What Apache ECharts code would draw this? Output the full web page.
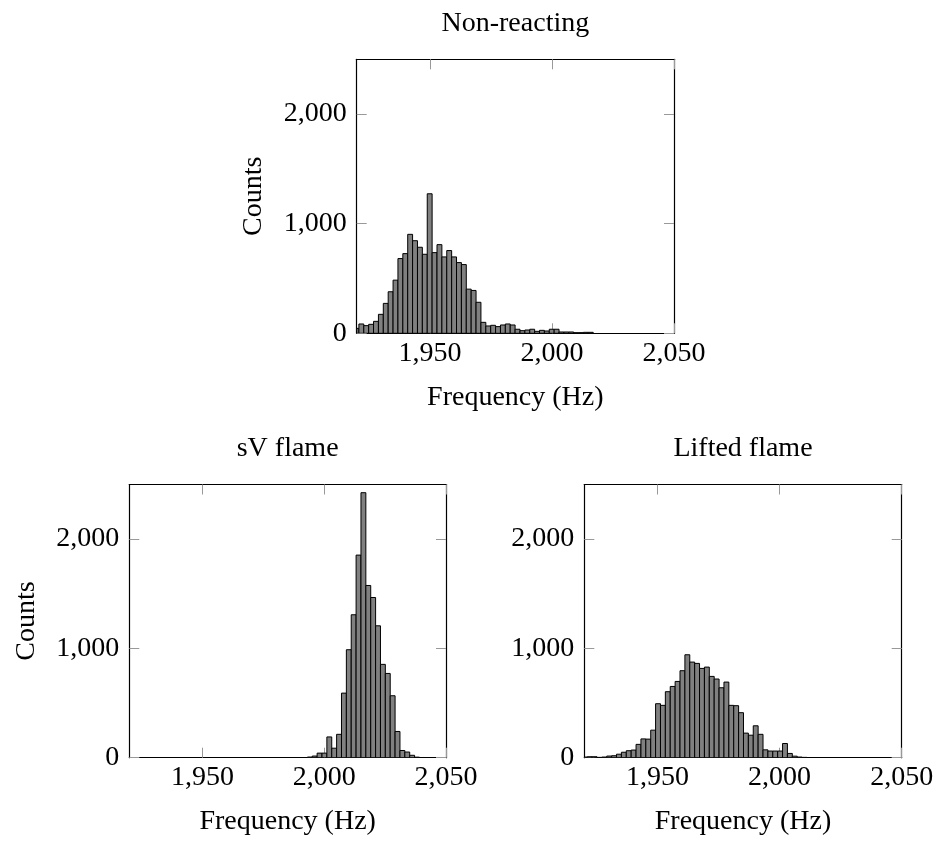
<!DOCTYPE html>
<html>
<head>
<meta charset="utf-8">
<script src="https://cdn.jsdelivr.net/npm/echarts@6/dist/echarts.min.js"></script>
<style>
html,body{margin:0;padding:0;background:#fff;}
#chart{width:936px;height:844px;}
</style>
</head>
<body>
<div id="chart"></div>
<script>
// ---- Data (bin centres in Hz, counts) ----
const binWidth = 2.0;
const xTicks = [1950, 2000, 2050];
const yTicks = [0, 1000, 2000];
const titles = ['Non-reacting', 'sV flame', 'Lifted flame'];

const topCenters = [1919.9,1921.9,1923.9,1925.9,1927.9,1929.9,1931.9,1933.9,1935.9,1937.9,1939.9,1941.9,1943.9,1945.9,1947.9,1949.9,1951.9,1953.9,1955.9,1957.9,1959.9,1961.9,1963.9,1965.9,1967.9,1969.9,1971.9,1973.9,1975.9,1977.9,1979.9,1981.9,1983.9,1985.9,1987.9,1989.9,1991.9,1993.9,1995.9,1997.9,1999.9,2001.9,2003.9,2005.9,2007.9,2009.9,2011.9,2013.9,2015.9];
const topCounts = [45,85,70,82,109,173,273,379,485,682,727,903,845,785,721,1273,736,809,697,755,697,645,627,403,391,283,100,67,73,61,76,85,76,37,24,30,37,18,27,21,37,37,12,12,12,6,6,9,9];

const svCenters = [1994.1,1996.1,1998.1,2000.1,2002.1,2004.1,2006.1,2008.1,2010.1,2012.1,2014.1,2016.1,2018.1,2020.1,2022.1,2024.1,2026.1,2028.1,2030.1,2032.1,2034.1,2036.1,2038.1];
const svCounts = [6,15,42,42,190,87,214,591,988,1308,1854,2425,1576,1466,1207,854,771,567,240,66,52,22,5];

const liftedCenters = [1920.2,1922.2,1924.2,1926.2,1928.2,1930.2,1932.2,1934.2,1936.2,1938.2,1940.2,1942.2,1944.2,1946.2,1948.2,1950.2,1952.2,1954.2,1956.2,1958.2,1960.2,1962.2,1964.2,1966.2,1968.2,1970.2,1972.2,1974.2,1976.2,1978.2,1980.2,1982.2,1984.2,1986.2,1988.2,1990.2,1992.2,1994.2,1996.2,1998.2,2000.2,2002.2,2004.2,2006.2,2008.2,2010.2];
const liftedCounts = [6,9,9,3,6,15,18,32,50,64,70,122,172,170,252,494,479,604,652,698,796,942,875,863,817,829,744,720,640,692,479,476,412,225,206,292,214,72,61,61,61,130,39,14,6,3];

// ---- Styling / layout ----
const FONT = "'Liberation Serif', 'DejaVu Serif', serif";
const FS = 28;
const grids = [
  {left: 356.7, top: 59.3, width: 317.3, height: 274},
  {left: 129.3, top: 484.5, width: 316.7, height: 273.2},
  {left: 584.3, top: 484.5, width: 317.4, height: 273.2}
];
const fmt = v => Math.round(v).toLocaleString('en-US');

const xAxes = [], yAxes = [], series = [];
const datasets = [[topCenters, topCounts], [svCenters, svCounts], [liftedCenters, liftedCounts]];

grids.forEach((g, i) => {
  const common = {
    gridIndex: i, type: 'value', splitLine: {show: false},
    axisLine: {show: true, onZero: false, lineStyle: {color: '#000', width: 1.2}},
    axisTick: {show: true, inside: true, length: 10, lineStyle: {color: '#999', width: 1}}
  };
  xAxes.push(Object.assign({}, common, {
    position: 'bottom', min: 1920, max: 2050,
    axisTick: Object.assign({}, common.axisTick, {customValues: xTicks}),
    axisLabel: {customValues: xTicks, formatter: fmt, fontFamily: FONT, fontSize: FS, color: '#000', margin: 6},
    name: 'Frequency (Hz)', nameLocation: 'middle', nameGap: 50,
    nameTextStyle: {fontFamily: FONT, fontSize: FS, color: '#000'}
  }));
  xAxes.push(Object.assign({}, common, {
    position: 'top', min: 1920, max: 2050,
    axisTick: Object.assign({}, common.axisTick, {customValues: xTicks}),
    axisLabel: {show: false},
    name: titles[i], nameLocation: 'middle', nameGap: 22,
    nameTextStyle: {fontFamily: FONT, fontSize: FS, color: '#000'}
  }));
  yAxes.push(Object.assign({}, common, {
    position: 'left', min: 0, max: 2500,
    axisTick: Object.assign({}, common.axisTick, {customValues: yTicks}),
    axisLabel: {customValues: yTicks, formatter: fmt, fontFamily: FONT, fontSize: FS, color: '#000', margin: 10},
    name: i < 2 ? 'Counts' : '', nameLocation: 'middle', nameGap: 89, nameRotate: 90,
    nameTextStyle: {fontFamily: FONT, fontSize: FS, color: '#000'}
  }));
  yAxes.push(Object.assign({}, common, {
    position: 'right', min: 0, max: 2500,
    axisTick: Object.assign({}, common.axisTick, {customValues: yTicks}),
    axisLabel: {show: false}
  }));
  const [cs, vs] = datasets[i];
  series.push({
    type: 'custom',
    xAxisIndex: 2 * i, yAxisIndex: 2 * i,
    data: cs.map((c, k) => [c, vs[k]]),
    clip: true,
    renderItem: function (params, api) {
      const c = api.value(0), v = api.value(1);
      const p0 = api.coord([c - binWidth / 2, 0]);
      const p1 = api.coord([c + binWidth / 2, v]);
      const shape = echarts.graphic.clipRectByRect(
        {x: p0[0], y: p1[1], width: p1[0] - p0[0], height: p0[1] - p1[1]},
        {x: params.coordSys.x, y: params.coordSys.y, width: params.coordSys.width, height: params.coordSys.height}
      );
      if (!shape) return;
      return {type: 'rect', shape: shape, style: {fill: '#808080', stroke: '#000', lineWidth: 1}};
    }
  });
});

const chart = echarts.init(document.getElementById('chart'), null, {renderer: 'canvas'});
chart.setOption({
  animation: false,
  backgroundColor: '#fff',
  grid: grids.map(g => Object.assign({outerBoundsMode: 'none'}, g)),
  xAxis: xAxes,
  yAxis: yAxes,
  series: series
});
</script>
</body>
</html>
